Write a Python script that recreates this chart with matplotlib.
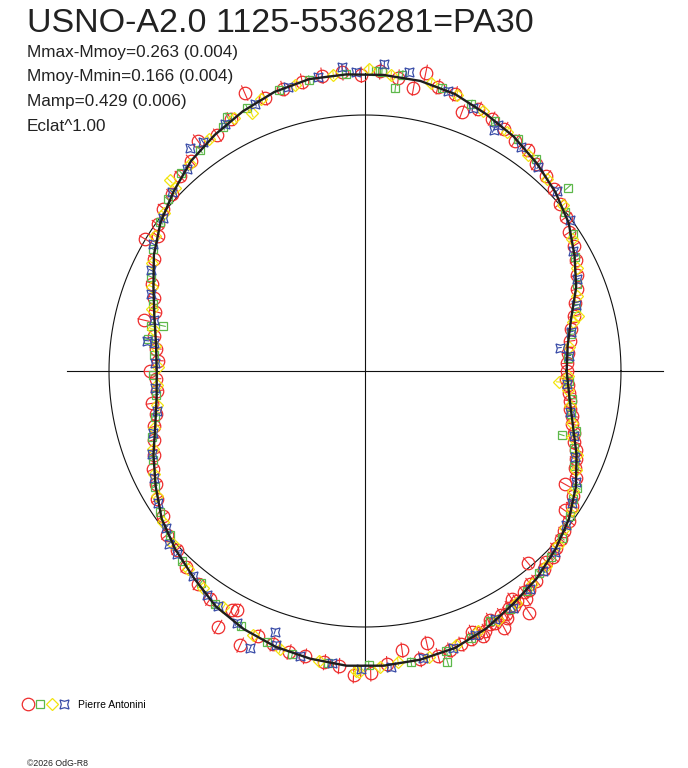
import numpy as np
import matplotlib
matplotlib.use("Agg")
import matplotlib.pyplot as plt
from matplotlib.collections import LineCollection
from matplotlib.legend_handler import HandlerTuple

plt.rcParams['font.family'] = ['Liberation Sans', 'DejaVu Sans']

# Polar light curve: angle = phase (clockwise, phase 0 on the right),
# radius = flux relative to the mean magnitude (Eclat^1.00)
title = "USNO-A2.0 1125-5536281=PA30"
stats = ["Mmax-Mmoy=0.263 (0.004)",
         "Mmoy-Mmin=0.166 (0.004)",
         "Mamp=0.429 (0.006)",
         "Eclat^1.00"]
observer = "Pierre Antonini"
credit = "\u00a92026 OdG-R8"

# fitted curve (delta mag vs mean, positive = fainter)
fit_phase = [0.00, 0.02, 0.04, 0.06, 0.08, 0.10, 0.12, 0.14, 0.16, 0.18,
             0.20, 0.22, 0.24, 0.26, 0.28, 0.30, 0.32, 0.34, 0.36, 0.38,
             0.40, 0.42, 0.44, 0.46, 0.48, 0.50, 0.52, 0.54, 0.56, 0.58,
             0.60, 0.62, 0.64, 0.66, 0.68, 0.70, 0.72, 0.74, 0.76, 0.78,
             0.80, 0.82, 0.84, 0.86, 0.88, 0.90, 0.92, 0.94, 0.96, 0.98]
fit_dm = [0.259, 0.236, 0.192, 0.128, 0.067, 0.017, -0.021, -0.055, -0.082, -0.115,
          -0.140, -0.150, -0.155, -0.155, -0.146, -0.135, -0.117, -0.092, -0.052, -0.018,
          0.020, 0.075, 0.128, 0.182, 0.215, 0.224, 0.212, 0.177, 0.128, 0.066,
          0.014, -0.027, -0.069, -0.097, -0.124, -0.148, -0.162, -0.162, -0.160, -0.155,
          -0.140, -0.113, -0.088, -0.056, -0.022, 0.018, 0.074, 0.130, 0.200, 0.245]

red_phase = [0.000, 0.006, 0.011, 0.017, 0.023, 0.029, 0.034, 0.040, 0.046, 0.052,
             0.057, 0.063, 0.069, 0.075, 0.082, 0.086, 0.092, 0.097, 0.101, 0.108,
             0.113, 0.119, 0.124, 0.129, 0.133, 0.138, 0.141, 0.145, 0.148, 0.151,
             0.152, 0.155, 0.157, 0.159, 0.160, 0.163, 0.166, 0.167, 0.169, 0.171,
             0.174, 0.176, 0.177, 0.181, 0.183, 0.185, 0.188, 0.190, 0.196, 0.203,
             0.210, 0.2145, 0.220, 0.229, 0.238, 0.247, 0.256, 0.264, 0.272, 0.283,
             0.292, 0.302, 0.311, 0.318, 0.328, 0.331, 0.333, 0.345, 0.356, 0.368,
             0.379, 0.390, 0.401, 0.412, 0.421, 0.431, 0.440, 0.450, 0.459, 0.468,
             0.476, 0.485, 0.494, 0.500, 0.508, 0.517, 0.526, 0.536, 0.544, 0.553,
             0.562, 0.586, 0.578, 0.592, 0.598, 0.608, 0.618, 0.629, 0.640, 0.650,
             0.661, 0.672, 0.685, 0.694, 0.705, 0.716, 0.727, 0.738, 0.748, 0.758,
             0.768, 0.777, 0.782, 0.790, 0.800, 0.807, 0.815, 0.824, 0.833, 0.842,
             0.851, 0.860, 0.869, 0.878, 0.887, 0.896, 0.905, 0.914, 0.923, 0.932,
             0.941, 0.950, 0.959, 0.968, 0.977, 0.986, 0.994]
red_dm = [0.255, 0.262, 0.248, 0.240, 0.232, 0.221, 0.205, 0.196, 0.174, 0.160,
          0.140, 0.125, 0.108, 0.085, 0.116, 0.058, 0.040, 0.054, 0.012, 0.002,
          -0.010, -0.016, -0.035, -0.030, -0.048, 0.020, -0.060, -0.055, -0.072, -0.068,
          -0.095, -0.143, -0.080, -0.062, -0.092, -0.085, -0.100, -0.118, -0.094, -0.145,
          -0.110, -0.090, -0.104, -0.122, -0.135, -0.118, -0.105, -0.128, -0.134, -0.142,
          -0.150, -0.094, -0.148, -0.103, -0.150, -0.180, -0.187, -0.158, -0.150, -0.141,
          -0.139, -0.128, -0.120, -0.176, -0.062, -0.072, -0.154, -0.082, -0.062, -0.040,
          -0.015, -0.005, 0.030, 0.052, 0.082, 0.100, 0.130, 0.155, 0.176, 0.200,
          0.186, 0.222, 0.218, 0.190, 0.230, 0.214, 0.196, 0.130, 0.175, 0.150,
          0.115, 0.000, 0.075, 0.040, 0.008, -0.012, -0.025, -0.052, -0.070, -0.114,
          -0.090, -0.118, -0.182, -0.138, -0.150, -0.158, -0.166, -0.170, -0.158, -0.172,
          -0.155, -0.124, -0.187, -0.148, -0.140, -0.085, -0.118, -0.106, -0.095, -0.078,
          -0.075, -0.050, -0.042, -0.025, -0.004, 0.012, 0.038, 0.055, 0.080, 0.105,
          0.128, 0.158, 0.185, 0.212, 0.232, 0.248, 0.256]

green_phase = [0.008, 0.021, 0.033, 0.044, 0.050, 0.056, 0.068, 0.080, 0.088, 0.098,
               0.112, 0.125, 0.137, 0.149, 0.163, 0.176, 0.190, 0.205, 0.206, 0.225,
               0.248, 0.270, 0.290, 0.305, 0.322, 0.341, 0.355, 0.372, 0.389, 0.404,
               0.420, 0.437, 0.452, 0.466, 0.482, 0.497, 0.512, 0.523, 0.533, 0.535,
               0.549, 0.566, 0.583, 0.600, 0.614, 0.631, 0.648, 0.666, 0.671, 0.683,
               0.703, 0.720, 0.740, 0.756, 0.759, 0.767, 0.770, 0.792, 0.810, 0.826,
               0.843, 0.858, 0.883, 0.893, 0.907, 0.921, 0.938, 0.954, 0.972, 0.990]
green_dm = [0.245, 0.220, 0.215, 0.170, 0.232, 0.150, 0.118, 0.060, 0.050, 0.022,
            -0.008, -0.030, -0.045, -0.070, -0.092, -0.095, -0.124, -0.140, -0.180, -0.152,
            -0.150, -0.152, -0.145, -0.128, -0.112, -0.088, -0.050, -0.035, 0.005, 0.030,
            0.070, 0.118, 0.150, 0.190, 0.213, 0.205, 0.208, 0.170, 0.170, 0.230,
            0.155, 0.100, 0.050, 0.012, -0.022, -0.058, -0.080, -0.108, -0.133, -0.128,
            -0.150, -0.160, -0.163, -0.172, -0.172, -0.115, -0.168, -0.148, -0.126, -0.105,
            -0.088, -0.068, -0.072, 0.000, 0.030, 0.075, 0.118, 0.165, 0.220, 0.250]

yellow_phase = [0.004, 0.009, 0.015, 0.027, 0.039, 0.049, 0.060, 0.070, 0.083, 0.094,
                0.106, 0.117, 0.131, 0.144, 0.158, 0.172, 0.185, 0.199, 0.215, 0.232,
                0.242, 0.253, 0.255, 0.275, 0.297, 0.314, 0.336, 0.352, 0.366, 0.383,
                0.398, 0.414, 0.428, 0.444, 0.458, 0.474, 0.489, 0.503, 0.519, 0.531,
                0.545, 0.560, 0.575, 0.591, 0.606, 0.622, 0.623, 0.638, 0.656, 0.674,
                0.684, 0.692, 0.712, 0.733, 0.752, 0.764, 0.786, 0.801, 0.818, 0.835,
                0.853, 0.871, 0.889, 0.910, 0.928, 0.946, 0.960, 0.963, 0.981]
yellow_dm = [0.250, 0.300, 0.245, 0.226, 0.198, 0.180, 0.128, 0.102, 0.068, 0.030,
             0.008, -0.015, -0.040, -0.062, -0.085, -0.108, -0.110, -0.132, -0.148, -0.145,
             -0.160, -0.175, -0.172, -0.148, -0.138, -0.124, -0.080, -0.060, -0.042, -0.010,
             0.018, 0.060, 0.095, 0.135, 0.170, 0.210, 0.222, 0.228, 0.205, 0.185,
             0.158, 0.120, 0.075, 0.025, 0.000, -0.035, -0.070, -0.062, -0.095, -0.115,
             -0.103, -0.140, -0.150, -0.165, -0.180, -0.160, -0.155, -0.140, -0.118, -0.090,
             -0.060, -0.035, -0.008, 0.045, 0.090, 0.140, 0.165, 0.195, 0.238]

blue_phase = [0.010, 0.031, 0.048, 0.062, 0.077, 0.090, 0.104, 0.121, 0.134, 0.147,
              0.161, 0.173, 0.187, 0.201, 0.218, 0.236, 0.252, 0.268, 0.286, 0.300,
              0.303, 0.3125, 0.325, 0.339, 0.348, 0.361, 0.377, 0.385, 0.394, 0.410,
              0.425, 0.441, 0.455, 0.470, 0.487, 0.506, 0.521, 0.522, 0.538, 0.555,
              0.570, 0.586, 0.603, 0.619, 0.635, 0.644, 0.652, 0.668, 0.688, 0.708,
              0.725, 0.738, 0.745, 0.760, 0.773, 0.796, 0.812, 0.828, 0.829, 0.847,
              0.862, 0.880, 0.899, 0.917, 0.935, 0.952, 0.970, 0.981, 0.988]
blue_dm = [0.255, 0.218, 0.168, 0.130, 0.080, 0.045, 0.010, -0.025, -0.048, -0.070,
           -0.095, -0.098, -0.120, -0.138, -0.146, -0.160, -0.165, -0.150, -0.143, -0.130,
           -0.081, -0.172, -0.108, -0.085, -0.075, -0.048, -0.025, -0.023, 0.010, 0.045,
           0.085, 0.125, 0.160, 0.205, 0.212, 0.215, 0.200, 0.162, 0.178, 0.130,
           0.088, 0.040, 0.010, -0.030, -0.055, -0.110, -0.100, -0.110, -0.132, -0.150,
           -0.165, -0.190, -0.170, -0.200, -0.180, -0.145, -0.115, -0.070, -0.095, -0.070,
           -0.050, -0.030, 0.008, 0.068, 0.110, 0.158, 0.215, 0.290, 0.245]

# photometric error per series (mag)
errors = {'red': 0.03, 'green': 0.016, 'yellow': 0.016, 'blue': 0.012}

R0 = 256.0          # radius of the mean-magnitude circle (px)
CROSS = 1.166 * R0  # half length of the cross hairs

COL_RED = '#ee2c2c'
COL_GREEN = '#5db84a'
COL_YELLOW = '#f2e40c'
COL_BLUE = '#3a4da8'


def flux_radius(dm):
    return R0 * 10 ** (-0.4 * np.asarray(dm))


def to_xy(phase, dm):
    th = 2 * np.pi * (np.asarray(phase) + 0.25)
    r = flux_radius(dm)
    return r * np.sin(th), r * np.cos(th)


def err_segments(phase, dm, err):
    th = 2 * np.pi * (np.asarray(phase) + 0.25)
    r1 = flux_radius(np.asarray(dm) + err)
    r2 = flux_radius(np.asarray(dm) - err)
    p1 = np.column_stack([r1 * np.sin(th), r1 * np.cos(th)])
    p2 = np.column_stack([r2 * np.sin(th), r2 * np.cos(th)])
    return np.stack([p1, p2], axis=1)


fig = plt.figure(figsize=(6.88, 7.68), dpi=100)
ax = fig.add_axes([0, 0, 1, 1])
ax.set_xlim(-365, 323)
ax.set_ylim(-397, 371)
ax.axis('off')

# reference circle and cross hairs
t = np.linspace(0, 2 * np.pi, 721)
ax.plot(R0 * np.cos(t), R0 * np.sin(t), color='#111111', lw=0.8, zorder=1)
ax.plot([-CROSS, CROSS], [0, 0], color='#111111', lw=0.8, zorder=1)
ax.plot([0, 0], [-CROSS, CROSS], color='#111111', lw=0.8, zorder=1)

series = [
    (red_phase, red_dm, COL_RED, 'o', 9.0, errors['red']),
    (green_phase, green_dm, COL_GREEN, 's', 6.4, errors['green']),
    (yellow_phase, yellow_dm, COL_YELLOW, 'D', 5.8, errors['yellow']),
    (blue_phase, blue_dm, COL_BLUE, (4, 1, 45), 9.2, errors['blue']),
]

handles = []
for i, (ph, dm, col, mk, ms, err) in enumerate(series):
    segs = err_segments(ph, dm, err)
    ax.add_collection(LineCollection(segs, colors=col, linewidths=0.8, zorder=2 + i))
    x, y = to_xy(ph, dm)
    h, = ax.plot(x, y, linestyle='none', marker=mk, markersize=ms,
                 markerfacecolor='none', markeredgecolor=col,
                 markeredgewidth=0.9, zorder=2 + i)
    handles.append(h)

# fitted curve on top
fx, fy = to_xy(fit_phase + fit_phase[:1], fit_dm + fit_dm[:1])
ax.plot(fx, fy, color='#1e1e1e', lw=1.7, zorder=10)

# texts
fig.text(27 / 688, 1 - 32 / 768, title, fontsize=24.5, color='#222222',
         va='baseline', ha='left')
for k, s in enumerate(stats):
    fig.text(27 / 688, 1 - (56.5 + 24.7 * k) / 768, s, fontsize=12.3,
             color='#222222', va='baseline', ha='left')
fig.text(27 / 688, 1 - 763 / 768, credit, fontsize=6.3, color='#222222',
         va='center', ha='left')

fig.legend(handles=[tuple(handles)], labels=[observer],
           handler_map={tuple: HandlerTuple(ndivide=None, pad=0.0)},
           loc='center left', bbox_to_anchor=(22 / 688, 1 - 705 / 768),
           frameon=False, fontsize=7.5, handlelength=4.6, handletextpad=0.8,
           borderpad=0, borderaxespad=0)

fig.savefig('out.png', dpi=100)
